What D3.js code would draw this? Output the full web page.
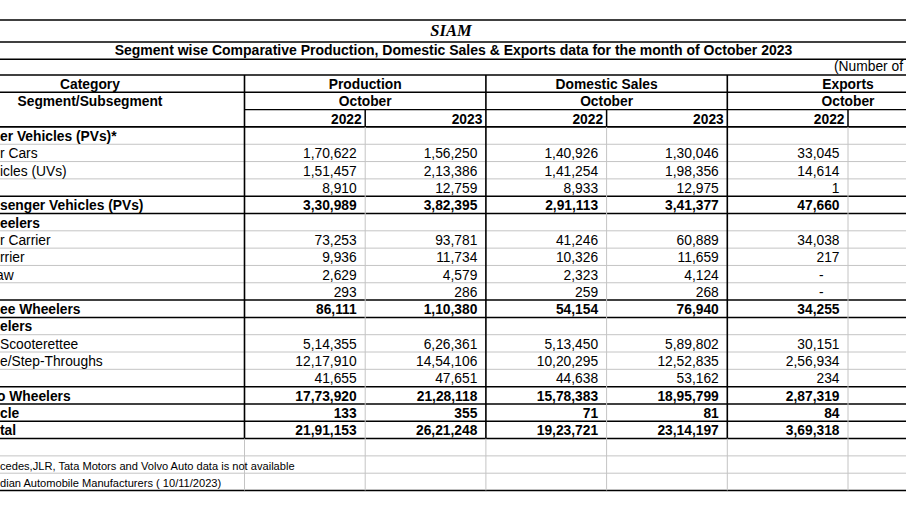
<!DOCTYPE html>
<html>
<head>
<meta charset="utf-8">
<script src="https://cdn.jsdelivr.net/npm/d3@7"></script>
<style>
  html, body { margin: 0; padding: 0; background: #fff; }
  svg { display: block; }
  text { font-family: "Liberation Sans", Arial, sans-serif; fill: #000; }
</style>
</head>
<body>
<div id="chart"></div>
<script>
// ---------------- DATA ----------------
const title = "SIAM";
const subtitle = "Segment wise Comparative Production, Domestic Sales & Exports data for the month of October 2023";
const unitNote = "(Number of";
const categoryHeader = ["Category", "Segment/Subsegment"];
const groupHeaders = ["Production", "Domestic Sales", "Exports"];
const monthLabel = "October";
const years = ["2022", "2023"];

// visible (left-cropped) category labels
const categories = [
  "er Vehicles (PVs)*", "r Cars", "icles (UVs)", "", "senger Vehicles (PVs)",
  "eelers", "r Carrier", "rrier", "aw", "", "ee Wheelers",
  "elers", "Scooterettee", "e/Step-Throughs", "", "o Wheelers",
  "cle", "tal"
];
// row kind: section heading, item, or total
const rowKinds = [
  "section", "item", "item", "item", "total",
  "section", "item", "item", "item", "item", "total",
  "section", "item", "item", "item", "total",
  "total", "total"
];
const production2022 = [null, 170622, 151457, 8910, 330989, null, 73253, 9936, 2629, 293, 86111, null, 514355, 1217910, 41655, 1773920, 133, 2191153];
const production2023 = [null, 156250, 213386, 12759, 382395, null, 93781, 11734, 4579, 286, 110380, null, 626361, 1454106, 47651, 2128118, 355, 2621248];
const domestic2022   = [null, 140926, 141254, 8933, 291113, null, 41246, 10326, 2323, 259, 54154, null, 513450, 1020295, 44638, 1578383, 71, 1923721];
const domestic2023   = [null, 130046, 198356, 12975, 341377, null, 60889, 11659, 4124, 268, 76940, null, 589802, 1252835, 53162, 1895799, 81, 2314197];
const exports2022    = [null, 33045, 14614, 1, 47660, null, 34038, 217, 0, 0, 34255, null, 30151, 256934, 234, 287319, 84, 369318];

const notes = [
  "cedes,JLR, Tata Motors and Volvo Auto data is not available",
  "dian Automobile Manufacturers ( 10/11/2023)"
];

// ---------------- LAYOUT ----------------
const W = 906, H = 510;
const FS = 13.8;
const labelNudge = { "aw": -4, "o Wheelers": -3 };

const svg = d3.select("#chart").append("svg")
  .attr("width", W).attr("height", H);

const colKeys = ["p22", "p23", "d22", "d23", "e22", "e23"];
const columns = [production2022, production2023, domestic2022, domestic2023, exports2022, null];
const x = d3.scaleBand().domain(colKeys).range([244.5, 244.5 + 6 * 120.7]);
const catCenter = 90;

// rows: 3 header rows + data rows + blank + 2 notes
const nRows = 3 + categories.length + 1 + notes.length;
const y = d3.scaleBand().domain(d3.range(nRows)).range([75, 490.5]);
const h = y.bandwidth();
const edge = k => 75 + k * h;
const dataStart = 3;
const dataEnd = 3 + categories.length;

const fmt = d3.formatLocale({ decimal: ".", thousands: ",", grouping: [3, 2], currency: ["", ""] }).format(",d");

const gLines = svg.append("g");
const gText = svg.append("g");

// ---- title rows ----
gText.append("text").attr("x", 451).attr("y", 36)
  .attr("text-anchor", "middle")
  .style("font-family", "'Liberation Serif', 'Times New Roman', serif")
  .style("font-style", "italic").style("font-weight", "bold")
  .style("font-size", "16.5px").text(title);
gText.append("text").attr("x", 453.5).attr("y", 54.5)
  .attr("text-anchor", "middle").style("font-weight", "bold")
  .style("font-size", "14px").text(subtitle);
gText.append("text").attr("x", 834).attr("y", 71)
  .style("font-size", FS + "px").text(unitNote);

// ---- lines ----
const black = "#000", grey = "#c4c4c4";
function hline(yy, x0, x1, color, sw) {
  gLines.append("line").attr("x1", x0).attr("x2", x1)
    .attr("y1", yy).attr("y2", yy)
    .attr("stroke", color).attr("stroke-width", sw);
}
function vline(xx, y0, y1, color, sw) {
  gLines.append("line").attr("x1", xx).attr("x2", xx)
    .attr("y1", y0).attr("y2", y1)
    .attr("stroke", color).attr("stroke-width", sw);
}
hline(20, 0, W, black, 1.7);
hline(42, 0, W, black, 1.4);
hline(59.3, 0, W, black, 1.4);

for (let k = 0; k <= nRows; k++) {
  const yy = edge(k);
  let color = grey, sw = 1, x0 = 0;
  if (k <= 3) { color = black; sw = (k === 0 || k === 3) ? 1.7 : 1.4; if (k === 2) x0 = 244; }
  else if (k < dataEnd) {
    const r = k - dataStart;
    const prev = rowKinds[r - 1], cur = rowKinds[r];
    if (prev === "total" || cur === "total") { color = black; sw = 1.5; }
  } else if (k === dataEnd) { color = black; sw = 1.5; }
  else if (k === nRows) { color = black; sw = 1.7; }
  hline(yy, x0, W, color, sw);
}

const groupEdges = [x("p22"), x("d22"), x("e22")];
groupEdges.forEach(xx => {
  vline(xx, edge(0), edge(dataEnd), black, 1.6);
  vline(xx, edge(dataEnd), edge(nRows), grey, 1);
});
[x("p23"), x("d23"), x("e23")].forEach(xx => {
  vline(xx, edge(dataStart), edge(nRows), grey, 1);
  vline(xx, edge(2), edge(3), black, 1.5);
});

// ---- header text ----
const base = i => y(i) + h - 3.2;
categoryHeader.forEach((t, i) => {
  gText.append("text").attr("x", catCenter).attr("y", base(i))
    .attr("text-anchor", "middle").style("font-weight", "bold")
    .style("font-size", FS + "px").text(t);
});
groupHeaders.forEach((t, gi) => {
  const cx = x(colKeys[gi * 2]) + x.bandwidth();
  gText.append("text").attr("x", cx).attr("y", base(0))
    .attr("text-anchor", "middle").style("font-weight", "bold")
    .style("font-size", FS + "px").text(t);
  gText.append("text").attr("x", cx).attr("y", base(1))
    .attr("text-anchor", "middle").style("font-weight", "bold")
    .style("font-size", FS + "px").text(monthLabel);
  years.forEach((yr, yi) => {
    const k = colKeys[gi * 2 + yi];
    gText.append("text").attr("x", x(k) + x.bandwidth() - 3.5).attr("y", base(2))
      .attr("text-anchor", "end").style("font-weight", "bold")
      .style("font-size", FS + "px").text(yr);
  });
});

// ---- data rows ----
categories.forEach((c, r) => {
  const row = dataStart + r;
  const bold = rowKinds[r] !== "item";
  if (c) {
    gText.append("text").attr("x", (labelNudge[c] || 0)).attr("y", base(row))
      .style("font-weight", bold ? "bold" : "normal")
      .style("font-size", FS + "px").text(c);
  }
  columns.forEach((arr, ci) => {
    if (!arr) return;
    const v = arr[r];
    if (v === null || v === undefined) return;
    const right = x(colKeys[ci]) + x.bandwidth() - 8.5;
    gText.append("text")
      .attr("x", v === 0 ? right - 16 : right)
      .attr("y", base(row))
      .attr("text-anchor", "end")
      .style("font-weight", bold ? "bold" : "normal")
      .style("font-size", FS + "px")
      .text(v === 0 ? "-" : fmt(v));
  });
});

// ---- notes ----
notes.forEach((t, i) => {
  const row = dataEnd + 1 + i;
  gText.append("text").attr("x", 0).attr("y", base(row))
    .style("font-size", "11.1px").text(t);
});
</script>
</body>
</html>
